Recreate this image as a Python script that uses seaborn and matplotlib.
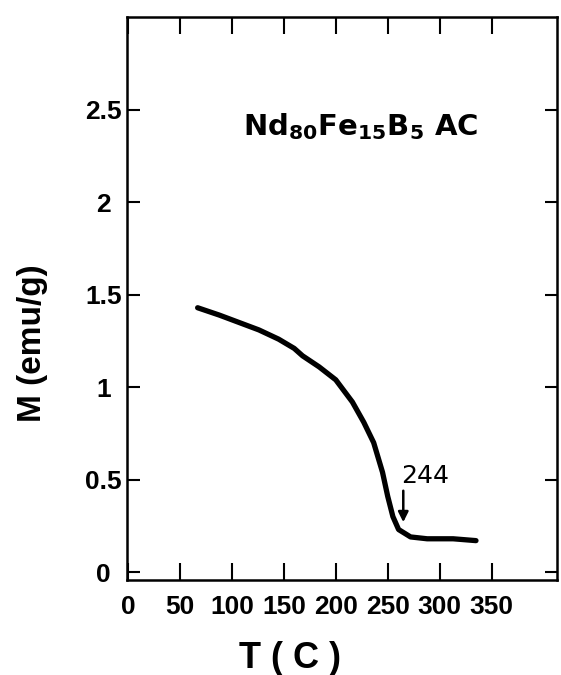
import matplotlib
matplotlib.use("Agg")
import matplotlib.pyplot as plt
import seaborn as sns
import numpy as np
import pandas as pd

# magnetization vs temperature
temperature = [67, 88, 107, 126, 145, 160, 168, 184, 200, 216, 227, 236.5,
               245, 250, 255, 260.5, 272, 288, 313, 335]
magnetization = [1.43, 1.39, 1.35, 1.31, 1.26, 1.21, 1.17, 1.11, 1.04, 0.92,
                 0.81, 0.70, 0.54, 0.41, 0.30, 0.23, 0.19, 0.18, 0.18, 0.17]

x_ticks = [0, 50, 100, 150, 200, 250, 300, 350]
x_ticklabels = ["0", "50", "100", "150", "200", "250", "300", "350"]
y_ticks = [0, 0.5, 1, 1.5, 2, 2.5]
y_ticklabels = ["0", "0.5", "1", "1.5", "2", "2.5"]

tc_label = "244"
tc_x = 265
sample_label = r"Nd$_\mathbf{80}$Fe$_\mathbf{15}$B$_\mathbf{5}$ AC"

df = pd.DataFrame({"T": temperature, "M": magnetization})

sns.set_theme(style="ticks", rc={"text.color": "black", "axes.labelcolor": "black",
                                 "xtick.color": "black", "ytick.color": "black",
                                 "axes.edgecolor": "black"})
plt.rcParams["font.family"] = ["Liberation Sans", "DejaVu Sans"]
plt.rcParams["mathtext.fontset"] = "dejavusans"

fig = plt.figure(figsize=(5.61, 6.75), dpi=100)
ax = fig.add_axes([127 / 561, 1 - 580 / 675, 430 / 561, 563 / 675])

sns.lineplot(data=df, x="T", y="M", color="black", lw=3.8, sort=False,
             estimator=None, ax=ax)
ax.lines[0].set_solid_capstyle("round")
ax.lines[0].set_solid_joinstyle("round")

ax.set_xlim(-1, 413)
ax.set_ylim(-0.043, 3.003)

ax.set_xticks(x_ticks)
ax.set_xticklabels(x_ticklabels)
ax.set_yticks(y_ticks)
ax.set_yticklabels(y_ticklabels)

ax.tick_params(axis="both", which="both", direction="in", top=True, right=True,
               colors="black", width=1.5)
ax.tick_params(axis="x", length=12, pad=11, labelsize=19)
ax.tick_params(axis="y", length=9, pad=17, labelsize=19)
for lab in ax.get_xticklabels() + ax.get_yticklabels():
    lab.set_fontweight("bold")
for lab in ax.get_yticklabels():
    lab.set_horizontalalignment("center")

for side in ["left", "bottom", "top", "right"]:
    ax.spines[side].set_linewidth(1.8)

ax.set_xlabel("T ( C )", fontsize=26, fontweight="bold")
ax.set_ylabel("M (emu/g)", fontsize=24, fontweight="bold")
ax.xaxis.set_label_coords(0.379, -0.108)
ax.yaxis.set_label_coords(-0.184, 0.42)

ax.text(111, 2.365, sample_label, fontsize=21, fontweight="bold",
        family="DejaVu Sans", ha="left", va="baseline")

ax.annotate("", xy=(tc_x, 0.27), xytext=(tc_x, 0.44),
            arrowprops=dict(arrowstyle="-|>", color="black", lw=1.8,
                            mutation_scale=15, shrinkA=0, shrinkB=0))
ax.text(tc_x + 21.5, 0.517, tc_label, fontsize=18, family="DejaVu Sans",
        ha="center", va="center")

fig.savefig("out.png", dpi=100, facecolor="white")
